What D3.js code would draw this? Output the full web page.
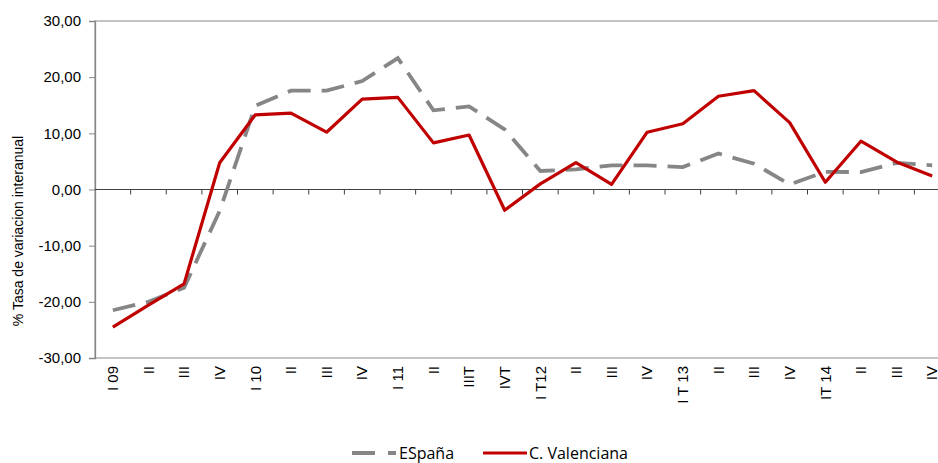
<!DOCTYPE html>
<html>
<head>
<meta charset="utf-8">
<script src="https://cdn.jsdelivr.net/npm/d3@7"></script>
<style>
  body { margin: 0; background: #fff; }
  svg { display: block; }
</style>
</head>
<body>
<div id="chart"></div>
<script>
// categories (quarters)
const quarters = ["I 09", "II", "III", "IV", "I 10", "II", "III", "IV", "I 11", "II", "IIIT", "IVT",
                  "I T12", "II", "III", "IV", "I T 13", "II", "III", "IV", "IT 14", "II", "III", "IV"];

// % tasa de variacion interanual
const espana = [-21.5, -20.0, -17.5, -3.8, 14.9, 17.6, 17.6, 19.3, 23.4, 14.1, 14.8, 10.7,
                3.3, 3.6, 4.3, 4.3, 4.0, 6.4, 4.6, 0.9, 3.15, 3.1, 4.75, 4.3];
const valenciana = [-24.5, -20.6, -16.8, 4.75, 13.3, 13.6, 10.2, 16.1, 16.4, 8.3, 9.7, -3.7,
                    1.0, 4.8, 0.9, 10.2, 11.7, 16.6, 17.6, 11.9, 1.3, 8.6, 4.9, 2.4];

const yTicks = [30, 20, 10, 0, -10, -20, -30];
const seriesNames = ["ESpaña", "C. Valenciana"];

const width = 938;
const height = 463;
const margin = {top: 21, right: -12, bottom: 105, left: 95};
const axisFont = "'Liberation Sans', Arial, sans-serif";

const svg = d3.select("#chart")
    .append("svg")
    .attr("width", width)
    .attr("height", height);

// scales
const xScale = d3.scaleBand()
    .domain(d3.range(quarters.length))
    .range([margin.left, width - margin.right]);

const yScale = d3.scaleLinear()
    .domain([-30, 30])
    .range([height - margin.bottom, margin.top]);

// plot area border (top / bottom)
svg.append("rect")
    .attr("x", margin.left)
    .attr("y", yScale(30))
    .attr("width", width - margin.right - margin.left)
    .attr("height", yScale(-30) - yScale(30))
    .attr("fill", "none")
    .attr("stroke", "#a6a6a6")
    .attr("stroke-width", 1.3);

// y axis
const yAxis = d3.axisLeft(yScale)
    .tickValues(yTicks)
    .tickSize(6)
    .tickPadding(8)
    .tickFormat(d => d3.format(".2f")(d).replace(".", ",").replace("−", "-"));

const gy = svg.append("g")
    .attr("transform", `translate(${margin.left},0)`)
    .call(yAxis);
gy.select(".domain").attr("stroke", "#868686").attr("stroke-width", 1.3);
gy.selectAll(".tick line").attr("stroke", "#868686");
gy.selectAll(".tick text")
    .attr("font-family", axisFont)
    .attr("font-size", 15)
    .attr("fill", "#000");

// x axis on zero line, ticks between categories
const zeroY = yScale(0);
svg.append("line")
    .attr("x1", margin.left)
    .attr("x2", width - margin.right)
    .attr("y1", zeroY)
    .attr("y2", zeroY)
    .attr("stroke", "#404040")
    .attr("stroke-width", 1.2);

svg.selectAll(".xtick")
    .data(d3.range(1, quarters.length + 1))
    .enter()
    .append("line")
    .attr("class", "xtick")
    .attr("x1", i => xScale(i - 1) + xScale.bandwidth())
    .attr("x2", i => xScale(i - 1) + xScale.bandwidth())
    .attr("y1", zeroY)
    .attr("y2", zeroY + 5)
    .attr("stroke", "#404040");

// category labels at bottom, rotated
svg.selectAll(".xlabel")
    .data(quarters)
    .enter()
    .append("text")
    .attr("class", "xlabel")
    .attr("transform", (d, i) => `translate(${xScale(i) + xScale.bandwidth() / 2},${yScale(-30) + 8}) rotate(-90)`)
    .attr("dy", "0.35em")
    .attr("text-anchor", "end")
    .attr("font-family", axisFont)
    .attr("font-size", 15)
    .attr("fill", "#000")
    .text(d => d);

// y title
svg.append("text")
    .attr("transform", "translate(23,231) rotate(-90)")
    .attr("text-anchor", "middle")
    .attr("font-family", axisFont)
    .attr("font-size", 14)
    .attr("fill", "#000")
    .text("% Tasa de variacion interanual");

// lines
const line = d3.line()
    .x((d, i) => xScale(i) + xScale.bandwidth() / 2)
    .y(d => yScale(d));

svg.append("path")
    .datum(espana)
    .attr("d", line)
    .attr("fill", "none")
    .attr("stroke", "#868686")
    .attr("stroke-width", 3.8)
    .attr("stroke-dasharray", "23,11");

svg.append("path")
    .datum(valenciana)
    .attr("d", line)
    .attr("fill", "none")
    .attr("stroke", "#c00000")
    .attr("stroke-width", 3.2)
    .attr("stroke-linejoin", "round");

// legend
const legend = svg.append("g").attr("transform", "translate(0,453)");
legend.append("line")
    .attr("x1", 352).attr("x2", 396)
    .attr("y1", 0).attr("y2", 0)
    .attr("stroke", "#868686")
    .attr("stroke-width", 3.8)
    .attr("stroke-dasharray", "23,13");
legend.append("text")
    .attr("x", 399).attr("y", 0)
    .attr("dy", "0.35em")
    .attr("font-family", "'Open Sans', sans-serif")
    .attr("font-size", 16)
    .attr("fill", "#000")
    .text(seriesNames[0]);
legend.append("line")
    .attr("x1", 483).attr("x2", 527)
    .attr("y1", 0).attr("y2", 0)
    .attr("stroke", "#c00000")
    .attr("stroke-width", 3.2);
legend.append("text")
    .attr("x", 529).attr("y", 0)
    .attr("dy", "0.35em")
    .attr("font-family", "'Open Sans', sans-serif")
    .attr("font-size", 16)
    .attr("fill", "#000")
    .text(seriesNames[1]);
</script>
</body>
</html>
